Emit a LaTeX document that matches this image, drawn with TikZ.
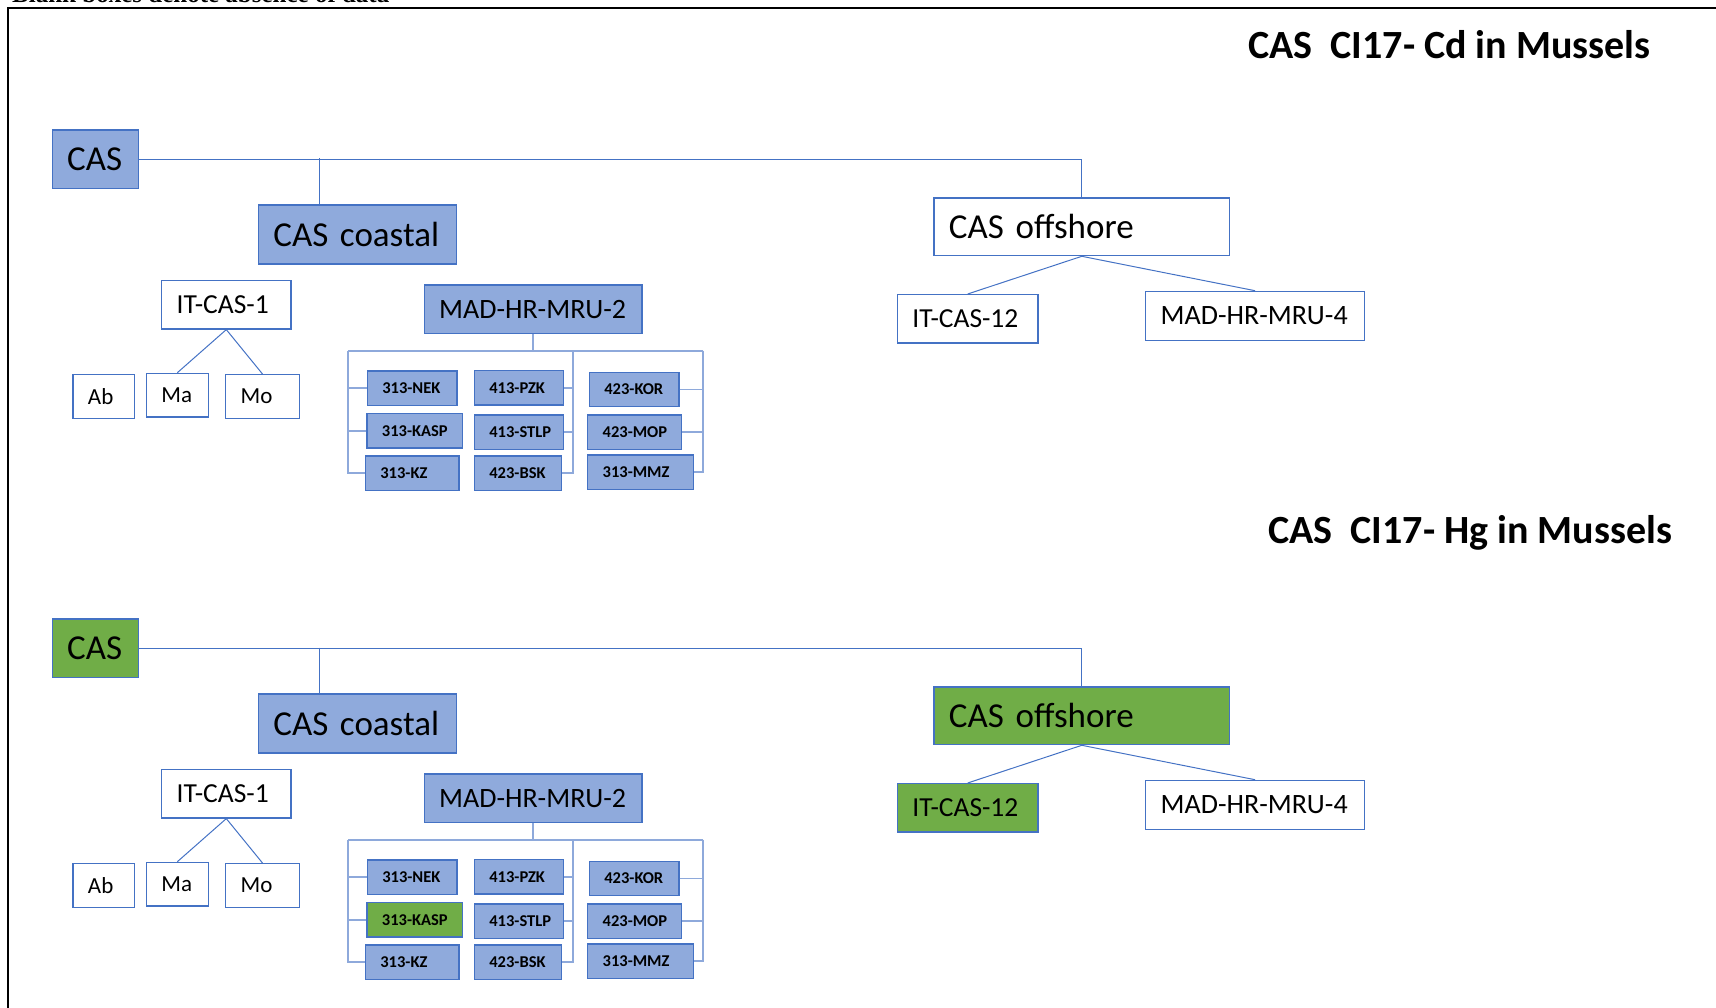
\documentclass[tikz,border=0pt]{standalone}
\usepackage{fontspec}
\setmainfont{Carlito}
\newfontfamily\notefont{Liberation Serif}
\usetikzlibrary{positioning}
\definecolor{mBlue}{HTML}{4472C4}
\definecolor{mFill}{HTML}{8FAADC}
\definecolor{mGreen}{HTML}{70AD47}
\definecolor{mLine}{HTML}{8EA9DB}

\begin{document}
\hyphenpenalty=10000 \exhyphenpenalty=10000
\begin{tikzpicture}[x=1pt, y=-1pt,
    bx/.style={draw=mBlue, line width=1.3pt, anchor=north west, inner xsep=15pt, inner ysep=0pt, align=left},
    big/.style={bx, font=\fontsize{35}{40}\selectfont},
    mid/.style={bx, fill=white, font=\fontsize{27.5}{32}\selectfont},
    lo/.style={bx, fill=white, minimum height=43.7pt, font=\fontsize{23}{27}\selectfont},
    sm/.style={bx, fill=mFill, minimum height=34.4pt, font=\bfseries\fontsize{16.5}{19}\selectfont},
    tree/.style={draw=mBlue, line width=1pt},
    brk/.style={draw=mLine, line width=1.8pt}]

  \useasboundingbox (0,0) rectangle (1716,1008);
  % header line cut at the top of the page
  \node[anchor=base west, inner sep=0pt, font=\notefont\bfseries\fontsize{25}{28}\selectfont] (note) at (12,2.5) {Blank boxes denote absence of data};
  \draw[line width=2.5pt] (8,1008) -- (8,8) -- (1716,8);

  \foreach \k/\dy/\tx/\ty/\el/\cf/\of in {1/0/1248/59/Cd/mFill/white, 2/489/1268/543/Hg/mGreen/mGreen} {
    \node[anchor=base west, inner sep=0pt, font=\bfseries\fontsize{40}{45}\selectfont] (title\k) at (\tx,\ty) {CAS\ \ CI17- \el\ in Mussels};
    \begin{scope}[yshift=-\dy pt]
      % top level
      \node[big, fill=\cf, text width=56.3pt, minimum height=58.5pt] (cas\k) at (51.5,129.3) {CAS};
      \node[big, fill=mFill, text width=168.3pt, minimum height=59pt] (coastal\k) at (257.7,204.3) {CAS coastal};
      \node[big, fill=\of, text width=265.7pt, minimum height=57.7pt] (offshore\k) at (933.3,197.3) {CAS offshore};
      % coastal side
      \node[mid, text width=99.3pt, minimum height=48.6pt] (itcasA\k) at (161,279.7) {IT-CAS-1};
      \node[lo, text width=31.7pt] (ab\k) at (72.3,374) {Ab};
      \node[lo, text width=32pt] (ma\k) at (145.7,372.7) {Ma};
      \node[lo, text width=43.7pt] (mo\k) at (225,374) {Mo};
      \node[mid, fill=mFill, font=\fontsize{28}{32}\selectfont, text width=187.8pt, minimum height=48.4pt] (mruA\k) at (423.5,284.3) {MAD-HR-MRU-2};
      \node[sm, text width=59.6pt] (nek\k) at (366.7,370.3) {313-NEK};
      \node[sm, fill=\cf, text width=65.7pt] (kasp\k) at (366.3,413) {313-KASP};
      \node[sm, text width=63.6pt] (kz\k) at (364.7,455.3) {313-KZ};
      \node[sm, text width=59.3pt] (pzk\k) at (473.7,370) {413-PZK};
      \node[sm, text width=59.3pt] (stlp\k) at (473.7,414.3) {413-STLP};
      \node[sm, text width=57.3pt] (bsk\k) at (473.7,455.3) {423-BSK};
      \node[sm, text width=59.6pt] (kor\k) at (588.7,371.7) {423-KOR};
      \node[sm, text width=63.7pt] (mop\k) at (587,414.3) {423-MOP};
      \node[sm, text width=76pt] (mmz\k) at (587,454.3) {313-MMZ};
      % offshore side
      \node[mid, fill=\of, text width=110.6pt, minimum height=48.3pt] (itcasB\k) at (896.7,294) {IT-CAS-12};
      \node[mid, font=\fontsize{28}{32}\selectfont, text width=188.7pt, minimum height=49.3pt] (mruB\k) at (1145,290.7) {MAD-HR-MRU-4};

      % tree lines
      \coordinate (jc\k) at (319.3,158.5);
      \draw[tree] (cas\k.east) -| (offshore\k.north);
      \draw[tree] (jc\k) -- (jc\k |- coastal\k.north);
      \draw[tree] (itcasA\k.south) -- (ma\k.north);
      \draw[tree] (itcasA\k.south) -- (mo\k.north);
      \draw[tree] (offshore\k.south) -- (itcasB\k.north);
      \draw[tree] (offshore\k.south) -- (mruB\k.north);

      % bracket under MAD-HR-MRU-2
      \coordinate (bl\k) at (348.3,350.7);
      \coordinate (bm\k) at (573.3,350.7);
      \coordinate (br\k) at (702.7,350.7);
      \draw[brk] (mruA\k.south) -- (mruA\k.south |- bl\k);
      \draw[brk] (bl\k) -- (br\k);
      \draw[brk] (bl\k) |- (kz\k.west);
      \draw[brk] (nek\k.west) -- (nek\k.west -| bl\k);
      \draw[brk] (kasp\k.west) -- (kasp\k.west -| bl\k);
      \draw[brk] (bm\k) |- (bsk\k.east);
      \draw[brk] (pzk\k.east) -- (pzk\k.east -| bm\k);
      \draw[brk] (stlp\k.east) -- (stlp\k.east -| bm\k);
      \draw[brk] (br\k) |- (mmz\k.east);
      \draw[brk] (kor\k.east) -- (kor\k.east -| br\k);
      \draw[brk] (mop\k.east) -- (mop\k.east -| br\k);
    \end{scope}
  }
\end{tikzpicture}
\end{document}
